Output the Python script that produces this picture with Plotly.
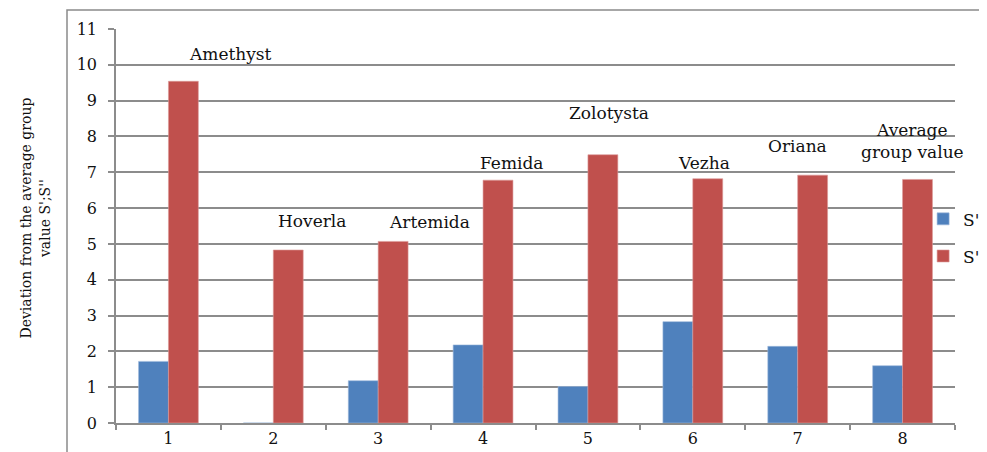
import plotly.graph_objects as go

categories = ["1", "2", "3", "4", "5", "6", "7", "8"]
s1_values = [1.72, 0.0, 1.18, 2.18, 1.02, 2.83, 2.14, 1.60]
s2_values = [9.54, 4.83, 5.07, 6.78, 7.49, 6.82, 6.92, 6.80]
variety_names = ["Amethyst", "Hoverla", "Artemida", "Femida", "Zolotysta",
                 "Vezha", "Oriana", "Average<br>group value"]
y_ticks = list(range(0, 12))

# label anchor positions (category-index units, value units)
label_x = [0.59, 1.37, 2.49, 3.28, 4.20, 5.11, 6.00, 7.09]
label_y = [10.31, 5.63, 5.60, 7.26, 8.66, 7.26, 7.73, 7.88]

FONT = "DejaVu Serif"
GRID = "#8c8c8c"

fig = go.Figure()
fig.add_trace(go.Bar(x=categories, y=s1_values, name="S'",
                     marker=dict(color="#4F81BD", line=dict(color="#9db8dc", width=0.6)),
                     legendgroup="a"))
fig.add_trace(go.Bar(x=categories, y=s2_values, name="S''",
                     marker=dict(color="#C0504D", line=dict(color="#dc9a98", width=0.6)),
                     legendgroup="b"))

for name, lx, ly in zip(variety_names, label_x, label_y):
    fig.add_annotation(x=lx, y=ly, xref="x", yref="y", text=name, showarrow=False,
                       font=dict(family=FONT, size=17, color="#111"),
                       xanchor="center", yanchor="middle")

fig.add_annotation(x=-0.096, y=0.52, xref="paper", yref="paper",
                   text="Deviation from the average group<br>value S';S''",
                   textangle=-90, showarrow=False,
                   font=dict(family=FONT, size=14, color="#111"),
                   xanchor="center", yanchor="middle")

# outer frame
fig.add_shape(type="path", xref="paper", yref="paper",
              path="M -0.0584 -0.2 L -0.0584 1.048 L 1.2 1.048",
              line=dict(color="#8a8a8a", width=1.5))

# page body has an 8px margin, so the figure is 8px smaller than the window
fig.update_layout(
    width=979, height=444,
    margin=dict(l=108, r=32, t=21, b=29, autoexpand=False),
    paper_bgcolor="white", plot_bgcolor="white",
    barmode="group", bargap=0.43, bargroupgap=0,
    font=dict(family=FONT, size=16, color="#111"),
    showlegend=True,
    legend=dict(x=0.962, y=0.47, xanchor="left", yanchor="middle",
                traceorder="grouped", tracegroupgap=12,
                font=dict(family=FONT, size=17, color="#111"),
                bgcolor="rgba(0,0,0,0)"),
    xaxis=dict(type="category", range=[-0.5, 7.5], tickson="boundaries",
               ticks="outside", ticklen=5, tickcolor=GRID, tickwidth=1.5,
               showline=True, linecolor=GRID, linewidth=1.5,
               showgrid=False, tickfont=dict(family=FONT, size=16, color="#111")),
    yaxis=dict(range=[0, 11], tickvals=y_ticks, ticks="outside", ticklen=6,
               tickcolor=GRID, tickwidth=1.5,
               showline=True, linecolor=GRID, linewidth=1.5,
               showgrid=True, gridcolor=GRID, gridwidth=1.5,
               zeroline=False, ticklabelstandoff=8,
               tickfont=dict(family=FONT, size=16, color="#111")),
)

fig.write_html("out.html")
